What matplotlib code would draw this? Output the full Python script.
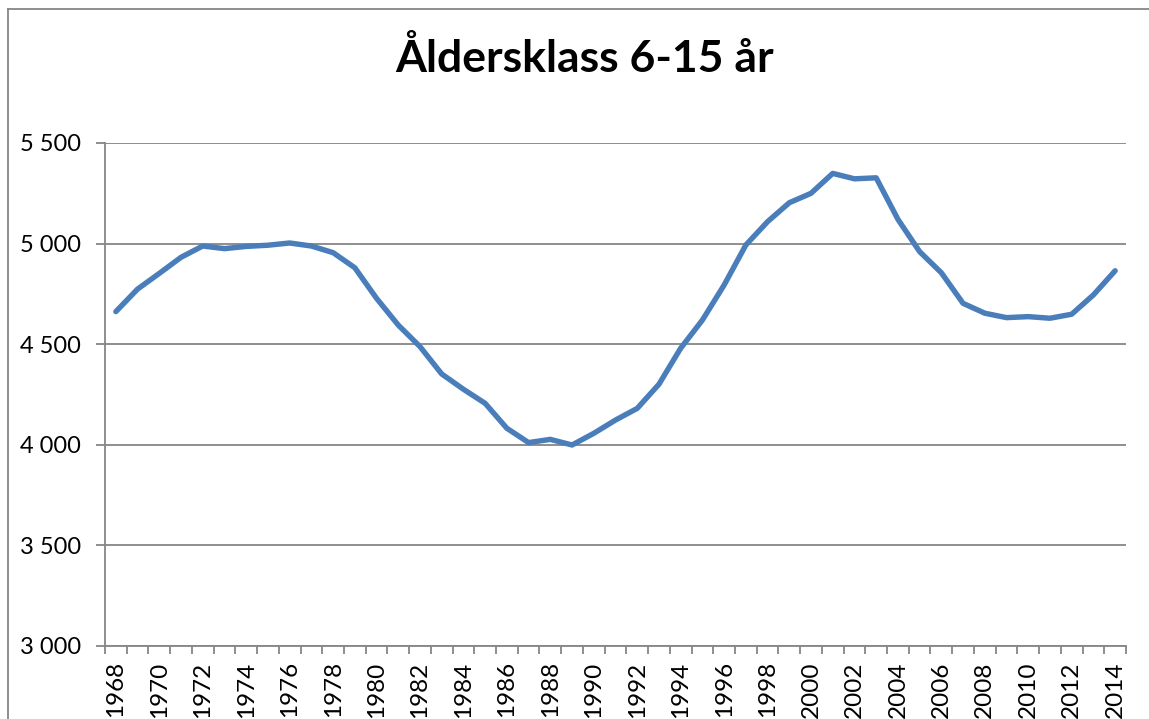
import numpy as np
import matplotlib.pyplot as plt
from matplotlib.lines import Line2D

# Data
years = list(range(1968, 2015))
values = [4662, 4774, 4852, 4932, 4988, 4975, 4986, 4992, 5003, 4988,
          4955, 4880, 4728, 4595, 4488, 4352, 4276, 4206, 4082, 4011,
          4027, 3999, 4057, 4123, 4181, 4301, 4480, 4620, 4794, 4993,
          5109, 5203, 5250, 5349, 5322, 5327, 5121, 4960, 4855, 4703,
          4654, 4632, 4637, 4629, 4649, 4745, 4865]
y_ticks = [3000, 3500, 4000, 4500, 5000, 5500]
title = "Åldersklass 6-15 år"

plt.rcParams['font.family'] = ['Lato', 'DejaVu Sans']

W, H = 1149, 719
fig = plt.figure(figsize=(W / 100, H / 100), dpi=100)
ax = fig.add_axes([105 / W, 1 - 646 / H, (1126 - 105) / W, (646 - 143) / H])

grey = '#868686'
x = np.arange(len(years))
ax.plot(x, values, color='#4a7ebb', linewidth=3.9, solid_joinstyle='round',
        solid_capstyle='round', zorder=3)

ax.set_xlim(-0.5, len(years) - 0.5)
ax.set_ylim(3000, 5500)

# y axis
ax.set_yticks(y_ticks, [f"{v:,}".replace(",", " ") for v in y_ticks])
ax.yaxis.grid(True, color=grey, linewidth=1.3)
ax.tick_params(axis='y', length=6.5, width=1.3, color=grey, labelsize=17, pad=11)

# x axis: labels every other year, tick marks between categories
ax.set_xticks(x[::2], [str(y) for y in years[::2]], rotation=90)
ax.set_xticks(np.arange(-0.5, len(years)), minor=True)
ax.tick_params(axis='x', which='major', length=0, labelsize=17.5, pad=11)
ax.tick_params(axis='x', which='minor', length=6, width=1.3, color=grey)

for side in ['top', 'right']:
    ax.spines[side].set_visible(False)
for side in ['left', 'bottom']:
    ax.spines[side].set_color(grey)
    ax.spines[side].set_linewidth(1.3)
ax.set_axisbelow(True)

fig.text(585 / W, 1 - 58 / H, title, ha='center', va='center',
         fontsize=32, fontweight='bold')

# chart border
fig.add_artist(Line2D([8 / W, 8 / W], [0, 1 - 9 / H], color=grey, linewidth=1.3))
fig.add_artist(Line2D([8 / W, 1], [1 - 9 / H, 1 - 9 / H], color=grey, linewidth=1.3))

fig.savefig('out.png', dpi=100)
